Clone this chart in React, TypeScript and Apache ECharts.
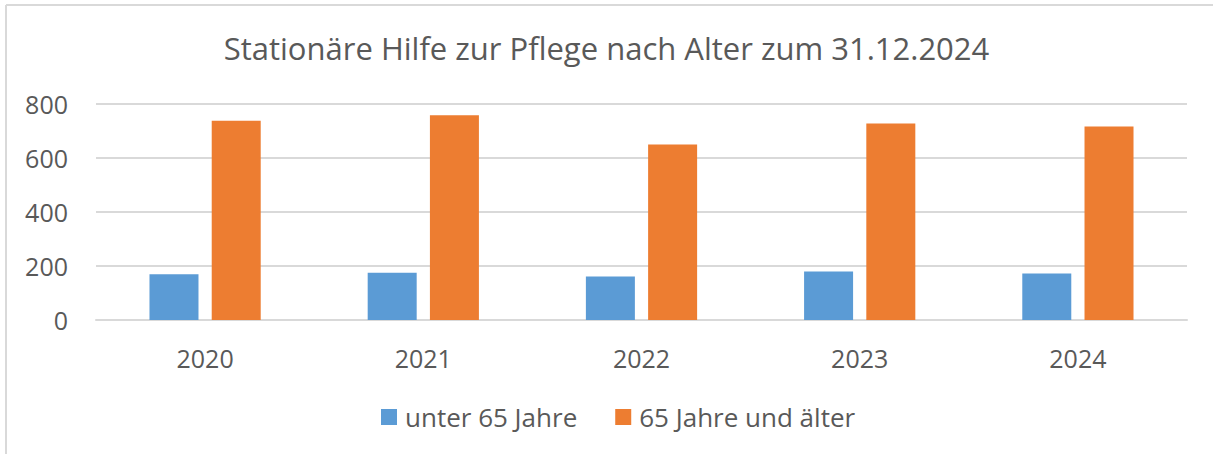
import React, { useEffect, useRef } from "react";
import * as echarts from "echarts";

const categories = ["2020", "2021", "2022", "2023", "2024"];
const under65 = [169, 175, 161, 180, 172];
const over65 = [738, 758, 650, 728, 717];
const seriesNames = ["unter 65 Jahre", "65 Jahre und älter"];
const titleText = "Stationäre Hilfe zur Pflege nach Alter zum 31.12.2024";

export default function App() {
  const ref = useRef<HTMLDivElement>(null);
  useEffect(() => {
    if (!ref.current) return;
    const chart = echarts.init(ref.current, undefined, { renderer: "svg" });
    const font = "'Open Sans', 'Liberation Sans', sans-serif";
    chart.setOption({
      animation: false,
      backgroundColor: "#ffffff",
      title: {
        text: titleText,
        left: "center",
        top: 27,
        textStyle: { fontFamily: font, fontSize: 31, fontWeight: "normal", color: "#595959" },
      },
      legend: {
        bottom: 19,
        left: 376,
        itemWidth: 16,
        itemHeight: 16,
        itemGap: 38,
        icon: "rect",
        textStyle: { fontFamily: font, fontSize: 26, color: "#595959", padding: [0, 0, 0, 3] },
        data: seriesNames,
      },
      grid: { left: 96, right: 26, top: 104, bottom: 134, containLabel: false },
      xAxis: {
        type: "category",
        data: categories,
        axisLine: { lineStyle: { color: "#d9d9d9", width: 2 } },
        axisTick: { show: false },
        axisLabel: { fontFamily: font, fontSize: 25, color: "#595959", margin: 25 },
      },
      yAxis: {
        type: "value",
        min: 0,
        max: 800,
        interval: 200,
        axisLine: { show: false },
        axisTick: { show: false },
        splitLine: { lineStyle: { color: "#d9d9d9", width: 2 } },
        axisLabel: { fontFamily: font, fontSize: 25, color: "#595959", margin: 28 },
      },
      graphic: [
        { type: "line", shape: { x1: 6, y1: 5, x2: 6, y2: 454 }, style: { stroke: "#d9d9d9", lineWidth: 2 } },
        { type: "line", shape: { x1: 6, y1: 5, x2: 1213, y2: 5 }, style: { stroke: "#d9d9d9", lineWidth: 2 } },
      ],
      series: [
        {
          name: seriesNames[0],
          type: "bar",
          data: under65,
          barWidth: 49,
          barGap: "27%",
          itemStyle: { color: "#5b9bd5" },
        },
        {
          name: seriesNames[1],
          type: "bar",
          data: over65,
          barWidth: 49,
          barGap: "27%",
          itemStyle: { color: "#ed7d31" },
        },
      ],
    });
    return () => chart.dispose();
  }, []);
  return (
    <div
      ref={ref}
      style={{ position: "fixed", left: 0, top: 0, width: 1213, height: 454 }}
    />
  );
}
